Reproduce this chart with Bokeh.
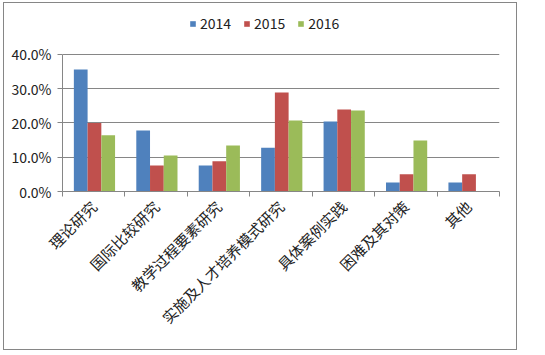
import math
from bokeh.plotting import figure
from bokeh.models import (ColumnDataSource, Range1d, LinearAxis, FixedTicker,
                          NumeralTickFormatter, Legend, LegendItem, Grid)
from bokeh.transform import dodge
from bokeh.embed import file_html
from bokeh.resources import INLINE

categories = ["理论研究", "国际比较研究", "教学过程要素研究", "实施及人才培养模式研究",
              "具体案例实践", "困难及其对策", "其他"]
years = ["2014", "2015", "2016"]
v2014 = [0.356, 0.178, 0.076, 0.128, 0.204, 0.026, 0.026]
v2015 = [0.200, 0.076, 0.088, 0.289, 0.239, 0.050, 0.050]
v2016 = [0.164, 0.105, 0.134, 0.207, 0.236, 0.149, 0.0]
y_ticks = [0.0, 0.1, 0.2, 0.3, 0.4]

colors = ["#4F81BD", "#C0504D", "#9BBB59"]
FONT = "Noto Sans CJK SC"
GRAY = "#868686"

n = len(categories)
centers = [i + 0.5 for i in range(n)]
src = ColumnDataSource(dict(x=centers, y2014=v2014, y2015=v2015, y2016=v2016))

# headroom above the 40% line holds the legend
p = figure(width=514, height=348, x_range=Range1d(0, n), y_range=Range1d(0, 0.534),
           x_axis_type=None, y_axis_type=None,
           output_backend="svg", toolbar_location=None,
           min_border_left=58, min_border_right=19, min_border_top=5, min_border_bottom=160)
p.styles = {"border": "1px solid " + GRAY, "margin-left": "3px", "margin-top": "2px"}
p.outline_line_color = None

w = 0.22
renderers = []
for i, (col, c) in enumerate(zip(["y2014", "y2015", "y2016"], colors)):
    r = p.vbar(x=dodge("x", (i - 1) * w + 0.012), top=col, width=w,
               source=src, fill_color=c, line_color=None)
    renderers.append(r)

yaxis = LinearAxis(ticker=FixedTicker(ticks=y_ticks), formatter=NumeralTickFormatter(format="0.0%"),
                   bounds=(0, 0.4))
yaxis.axis_line_color = GRAY
yaxis.major_tick_line_color = GRAY
yaxis.major_tick_out = 5
yaxis.major_tick_in = 0
yaxis.minor_tick_line_color = None
yaxis.major_label_text_font = FONT
yaxis.major_label_text_font_size = "14px"
yaxis.major_label_text_color = "#222222"
yaxis.major_label_standoff = 6
p.add_layout(yaxis, "left")

xaxis = LinearAxis(ticker=FixedTicker(ticks=centers, minor_ticks=list(range(n + 1))),
                   major_label_overrides={c: lab for c, lab in zip(centers, categories)})
xaxis.axis_line_color = GRAY
xaxis.major_tick_line_color = None
xaxis.minor_tick_line_color = GRAY
xaxis.minor_tick_out = 5
xaxis.minor_tick_in = 0
xaxis.major_label_orientation = math.pi / 4
xaxis.major_label_text_font = FONT
xaxis.major_label_text_font_size = "15px"
xaxis.major_label_text_color = "#222222"
xaxis.major_label_standoff = 6
p.add_layout(xaxis, "below")

p.add_layout(Grid(dimension=1, ticker=FixedTicker(ticks=y_ticks), grid_line_color=GRAY))

legend = Legend(items=[LegendItem(label=y, renderers=[r]) for y, r in zip(years, renderers)],
                orientation="horizontal", location=(127, 158))
legend.glyph_width = 7
legend.glyph_height = 7
legend.label_standoff = 4
legend.spacing = 12
legend.padding = 0
legend.margin = 0
legend.border_line_color = None
legend.background_fill_alpha = 0
legend.label_text_font = FONT
legend.label_text_font_size = "14px"
legend.label_text_color = "#222222"
p.add_layout(legend, "center")

open("out.html", "w").write(file_html(p, INLINE))
